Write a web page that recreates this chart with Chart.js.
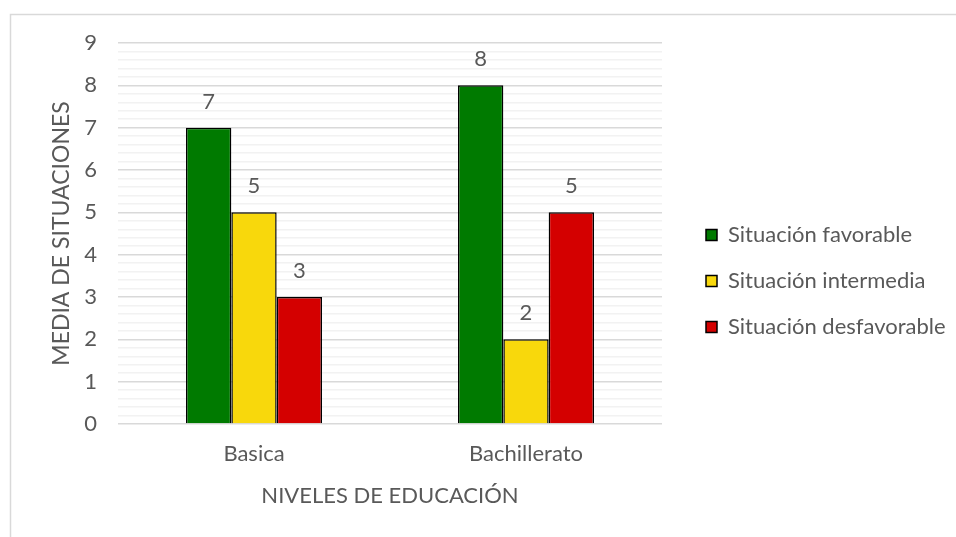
<!DOCTYPE html>
<html>
<head>
<meta charset="utf-8">
<script src="https://cdn.jsdelivr.net/npm/chart.js@4"></script>
<style>
  html, body { margin: 0; padding: 0; background: #fff; }
  #wrap { width: 956px; height: 537px; position: relative; }
</style>
</head>
<body>
<div id="wrap"><canvas id="bar_chart"></canvas></div>
<script>
const categories = ['Basica', 'Bachillerato'];
const favorable = [7, 8];
const intermedia = [5, 2];
const desfavorable = [3, 5];
const seriesNames = ['Situación favorable', 'Situación intermedia', 'Situación desfavorable'];

const textColor = '#595959';
const fontFamily = 'Lato, "Open Sans", sans-serif';

// frame around the whole chart (only top/left show inside the picture)
const framePlugin = {
  id: 'frame',
  beforeDraw(chart) {
    const ctx = chart.ctx;
    ctx.save();
    ctx.strokeStyle = '#d9d9d9';
    ctx.lineWidth = 1.5;
    ctx.strokeRect(10.5, 14.5, 1000, 600);
    ctx.restore();
  }
};

// push the legend a bit away from the plot and let it use the rest of the width
const legendShift = {
  id: 'legendShift',
  afterLayout(chart) {
    const lg = chart.legend;
    lg.left = chart.chartArea.right + 20;
    lg.right = chart.width;
    lg.width = lg.right - lg.left;
    lg.top += 3;
    lg.bottom += 3;
  }
};

// value labels above the bars
const valueLabels = {
  id: 'valueLabels',
  afterDatasetsDraw(chart) {
    const ctx = chart.ctx;
    ctx.save();
    ctx.fillStyle = textColor;
    ctx.font = '22px ' + fontFamily;
    ctx.textAlign = 'center';
    ctx.textBaseline = 'middle';
    chart.data.datasets.forEach((ds, i) => {
      chart.getDatasetMeta(i).data.forEach((bar, j) => {
        ctx.fillText(ds.data[j], bar.x, bar.y - 26);
      });
    });
    ctx.restore();
  }
};

const config = {
  type: 'bar',
  data: {
    labels: categories,
    datasets: [
      { label: seriesNames[0], data: favorable, backgroundColor: '#007a00' },
      { label: seriesNames[1], data: intermedia, backgroundColor: '#f8d80c' },
      { label: seriesNames[2], data: desfavorable, backgroundColor: '#d40000' }
    ]
  },
  options: {
    responsive: false,
    animation: false,
    layout: { padding: { left: 44, top: 43, bottom: 24, right: 88 } },
    datasets: {
      bar: {
        borderColor: '#000',
        borderWidth: 1.5,
        categoryPercentage: 0.5,
        barPercentage: 1
      }
    },
    scales: {
      x: {
        grid: { display: false, drawTicks: false },
        border: { display: false },
        ticks: { color: textColor, font: { family: fontFamily, size: 22 }, padding: 17 },
        title: {
          display: true,
          text: 'NIVELES DE EDUCACIÓN',
          color: textColor,
          font: { family: fontFamily, size: 22 }
        },
        afterFit(scale) { scale.height = 89; }
      },
      y: {
        min: 0,
        max: 9,
        grid: {
          drawTicks: false,
          color: (c) => Math.abs(c.tick.value - Math.round(c.tick.value)) < 1e-6 ? '#d9d9d9' : '#f2f2f2',
          lineWidth: 1.5
        },
        border: { display: false },
        ticks: {
          stepSize: 0.2,
          autoSkip: false,
          color: textColor,
          font: { family: fontFamily, size: 22 },
          padding: 21,
          callback: (v) => Math.abs(v - Math.round(v)) < 1e-6 ? Math.round(v) : ''
        },
        title: {
          display: true,
          text: 'MEDIA DE SITUACIONES',
          color: textColor,
          font: { family: fontFamily, size: 23 }
        },
        afterFit(scale) { scale.width = 74; }
      }
    },
    plugins: {
      legend: {
        position: 'right',
        labels: {
          color: textColor,
          font: { family: fontFamily, size: 22 },
          boxWidth: 11,
          boxHeight: 11,
          padding: 24
        }
      },
      tooltip: { enabled: false }
    }
  },
  plugins: [framePlugin, legendShift, valueLabels]
};

const canvas = document.getElementById('bar_chart');
canvas.width = 956;
canvas.height = 537;
barChart = new Chart(canvas, config);
</script>
</body>
</html>
